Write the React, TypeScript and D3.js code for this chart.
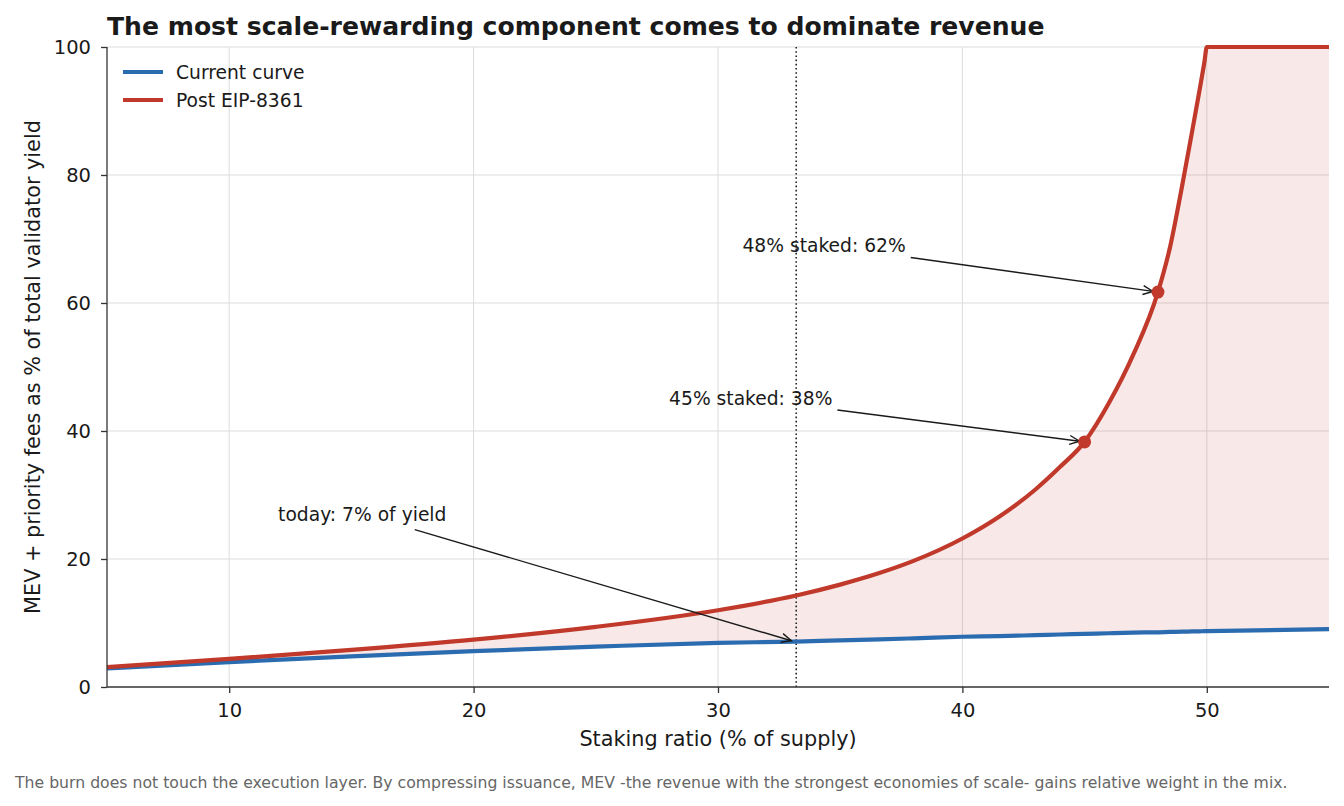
import React, { useEffect, useRef } from 'react';
import * as d3 from 'd3';

// Staking ratio (% of supply) sampled along the curves
const stakingRatio = [5, 10, 15, 20, 25, 30, 33.2, 35, 36.6, 38, 40, 41.5, 43, 44, 45, 46, 47, 48, 48.5, 49, 49.4, 49.7, 49.9, 50, 55];
// MEV + priority fees share of validator yield (%)
const currentCurve = [2.9, 3.9, 4.8, 5.6, 6.3, 6.9, 7.1, 7.3, 7.45, 7.6, 7.85, 7.95, 8.1, 8.2, 8.3, 8.4, 8.5, 8.55, 8.6, 8.65, 8.68, 8.7, 8.72, 8.73, 9.05];
const postEip = [3.1, 4.4, 5.8, 7.4, 9.4, 12.0, 14.3, 16.0, 17.8, 19.7, 23.2, 26.6, 30.9, 34.4, 38.3, 44.4, 52.0, 61.7, 68.8, 78.5, 86.8, 93.2, 97.6, 100, 100];

const seriesNames = ['Current curve', 'Post EIP-8361'];
const seriesColors = ['#2b6cb0', '#c0392b'];

const xTicks = [10, 20, 30, 40, 50];
const yTicks = [0, 20, 40, 60, 80, 100];

const todayRatio = 33.2;

const annotationLabels = ['today: 7% of yield', '45% staked: 38%', '48% staked: 62%'];
const annotationX = [33.2, 45, 48];
const annotationY = [7.0, 38.3, 61.7];
const annotationTextX = [12, 28, 31];
const annotationTextY = [26, 44, 68];
const annotationDot = [false, true, true];

const title = 'The most scale-rewarding component comes to dominate revenue';
const xLabel = 'Staking ratio (% of supply)';
const yLabel = 'MEV + priority fees as % of total validator yield';
const footer = 'The burn does not touch the execution layer. By compressing issuance, MEV -the revenue with the strongest economies of scale- gains relative weight in the mix.';

const WIDTH = 1344;
const HEIGHT = 806;
const FONT = '"DejaVu Sans", sans-serif';

const Chart: React.FC = () => {
    const svgRef = useRef<SVGSVGElement>(null);

    useEffect(() => {
        if (!svgRef.current) return;
        const svg = d3.select(svgRef.current);
        svg.selectAll('*').remove();

        const margin = { top: 47, right: 15, bottom: 119, left: 107 };
        const x = d3.scaleLinear().domain([5, 55]).range([margin.left, WIDTH - margin.right]);
        const y = d3.scaleLinear().domain([0, 100]).range([HEIGHT - margin.bottom, margin.top]);
        const [x0, x1] = x.range();
        const [yb, yt] = y.range();

        svg.style('font-family', FONT);

        // grid
        const grid = svg.append('g').attr('stroke', '#dcdcdc').attr('stroke-width', 1);
        xTicks.forEach((t) => {
            grid.append('line').attr('x1', x(t)).attr('x2', x(t)).attr('y1', yt).attr('y2', yb);
        });
        yTicks.filter((t) => t > 0).forEach((t) => {
            grid.append('line').attr('x1', x0).attr('x2', x1).attr('y1', y(t)).attr('y2', y(t));
        });

        const rows = stakingRatio.map((s, i) => ({ s, cur: currentCurve[i], post: postEip[i] }));

        // shaded gap between curves
        const area = d3.area<typeof rows[0]>()
            .x((d) => x(d.s))
            .y0((d) => y(d.cur))
            .y1((d) => y(d.post))
            .curve(d3.curveMonotoneX);
        svg.append('path').datum(rows).attr('d', area).attr('fill', seriesColors[1]).attr('fill-opacity', 0.11);

        // today marker
        svg.append('line')
            .attr('x1', x(todayRatio)).attr('x2', x(todayRatio))
            .attr('y1', yt).attr('y2', yb)
            .attr('stroke', '#222').attr('stroke-width', 1.6)
            .attr('stroke-dasharray', '1.6,2.6');

        const lineCur = d3.line<typeof rows[0]>().x((d) => x(d.s)).y((d) => y(d.cur)).curve(d3.curveMonotoneX);
        const linePost = d3.line<typeof rows[0]>().x((d) => x(d.s)).y((d) => y(d.post)).curve(d3.curveMonotoneX);

        svg.append('path').datum(rows).attr('d', lineCur)
            .attr('fill', 'none').attr('stroke', seriesColors[0]).attr('stroke-width', 4.2);
        svg.append('path').datum(rows).attr('d', linePost)
            .attr('fill', 'none').attr('stroke', seriesColors[1]).attr('stroke-width', 4.2)
            .attr('stroke-linejoin', 'round');

        // axes
        const xAxis = svg.append('g').attr('transform', `translate(0,${yb})`)
            .call(d3.axisBottom(x).tickValues(xTicks).tickSize(6).tickPadding(10).tickFormat(d3.format('d')));
        const yAxis = svg.append('g').attr('transform', `translate(${x0},0)`)
            .call(d3.axisLeft(y).tickValues(yTicks).tickSize(6).tickPadding(10).tickFormat(d3.format('d')));
        [xAxis, yAxis].forEach((g) => {
            g.select('.domain').attr('stroke', '#333').attr('stroke-width', 1.3);
            g.selectAll('.tick line').attr('stroke', '#333').attr('stroke-width', 1.3);
            g.selectAll('.tick text').attr('fill', '#1a1a1a').style('font-size', '19.5px').style('font-family', FONT);
        });
        xAxis.select('.domain').attr('d', `M${x0},0H${x1}`);
        yAxis.select('.domain').attr('d', `M0,${yb}V${yt}`);

        // annotations
        annotationLabels.forEach((label, i) => {
            const tx = x(annotationTextX[i]);
            const ty = y(annotationTextY[i]);
            const text = svg.append('text')
                .attr('x', tx).attr('y', ty)
                .attr('fill', '#1a1a1a')
                .style('font-size', '18.7px')
                .text(label);
            const bb = (text.node() as SVGTextElement).getBBox();
            const pad = 5;
            const bx0 = bb.x - pad, bx1 = bb.x + bb.width + pad;
            const by0 = bb.y - pad, by1 = bb.y + bb.height + pad;
            const cx = bb.x + bb.width / 2, cy = bb.y + bb.height / 2;
            const px = x(annotationX[i]), py = y(annotationY[i]);
            const dx = px - cx, dy = py - cy;
            let t = 1;
            if (dx > 0) t = Math.min(t, (bx1 - cx) / dx);
            if (dx < 0) t = Math.min(t, (bx0 - cx) / dx);
            if (dy > 0) t = Math.min(t, (by1 - cy) / dy);
            if (dy < 0) t = Math.min(t, (by0 - cy) / dy);
            const sx = cx + dx * t, sy = cy + dy * t;
            const len = Math.hypot(px - sx, py - sy);
            const ux = (px - sx) / len, uy = (py - sy) / len;
            const ex = px - ux * 5, ey = py - uy * 5;
            const arrow = svg.append('g').attr('stroke', '#1a1a1a').attr('stroke-width', 1.4).attr('fill', 'none');
            arrow.append('line').attr('x1', sx).attr('y1', sy).attr('x2', ex).attr('y2', ey);
            const hl = 10, hw = 4.5;
            arrow.append('path').attr('d',
                `M${ex - ux * hl - uy * hw},${ey - uy * hl + ux * hw}L${ex},${ey}L${ex - ux * hl + uy * hw},${ey - uy * hl - ux * hw}`);
            if (annotationDot[i]) {
                svg.append('circle').attr('cx', px).attr('cy', py).attr('r', 6.5).attr('fill', seriesColors[1]);
            }
        });

        // legend
        const legend = svg.append('g').attr('transform', `translate(${x0 + 16},${yt + 25})`);
        seriesNames.forEach((name, i) => {
            const row = legend.append('g').attr('transform', `translate(0,${i * 28})`);
            row.append('line').attr('x1', 0).attr('x2', 40).attr('y1', 0).attr('y2', 0)
                .attr('stroke', seriesColors[i]).attr('stroke-width', 4.2);
            row.append('text').attr('x', 53).attr('y', 0).attr('dy', '0.35em')
                .attr('fill', '#1a1a1a').style('font-size', '18.7px').text(name);
        });

        // titles
        svg.append('text').attr('x', x0).attr('y', 35)
            .attr('fill', '#1a1a1a').style('font-size', '25.1px').style('font-weight', 'bold').text(title);
        svg.append('text').attr('x', (x0 + x1) / 2).attr('y', 746).attr('text-anchor', 'middle')
            .attr('fill', '#1a1a1a').style('font-size', '20.8px').text(xLabel);
        svg.append('text').attr('transform', `translate(40,${(yt + yb) / 2}) rotate(-90)`)
            .attr('text-anchor', 'middle')
            .attr('fill', '#1a1a1a').style('font-size', '20.8px').text(yLabel);
        svg.append('text').attr('x', 15).attr('y', 788)
            .attr('fill', '#666').style('font-size', '15.7px').text(footer);
    }, []);

    return <svg ref={svgRef} width={WIDTH} height={HEIGHT} style={{ display: 'block', background: '#fff' }} />;
};

export default function App() {
    useEffect(() => {
        document.body.style.margin = '0';
    }, []);
    return (
        <div style={{ position: 'absolute', left: 0, top: 0 }}>
            <Chart />
        </div>
    );
}
